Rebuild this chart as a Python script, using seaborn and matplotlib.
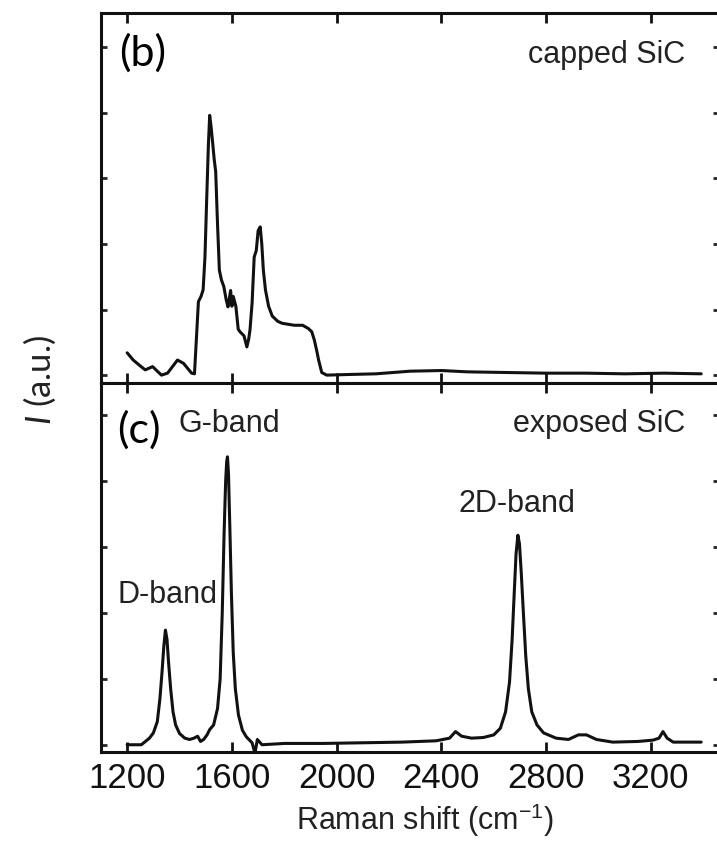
import numpy as np
import pandas as pd
import matplotlib
matplotlib.use('Agg')
import matplotlib.pyplot as plt
import seaborn as sns

# Raman spectra (wavenumber in cm^-1, intensity in a.u.)
capped_shift = [1200, 1223, 1250, 1269, 1297, 1315, 1331, 1354, 1375, 1392, 1415, 1446, 1457,
                1472, 1482, 1490, 1497, 1503, 1510, 1515, 1520, 1525, 1532, 1538, 1545, 1552,
                1560, 1569, 1578, 1585, 1595, 1600, 1605, 1615, 1624, 1631, 1646, 1657, 1664,
                1669, 1677, 1685, 1693, 1700, 1708, 1714, 1720, 1728, 1740, 1754, 1775, 1792,
                1838, 1870, 1892, 1905, 1915, 1925, 1931, 1943, 1962, 2050, 2150, 2280, 2400,
                2500, 2650, 2800, 2950, 3100, 3250, 3392]
capped_int = [0.34, 0.23, 0.14, 0.08, 0.13, 0.06, 0.0, 0.03, 0.14, 0.23, 0.18, 0.03, 0.02,
              1.12, 1.20, 1.30, 1.80, 2.60, 3.50, 3.96, 3.80, 3.60, 3.30, 3.10, 2.30, 1.60,
              1.45, 1.35, 1.15, 1.04, 1.29, 1.05, 1.20, 1.05, 0.70, 0.66, 0.60, 0.43, 0.55,
              0.69, 1.10, 1.80, 1.90, 2.20, 2.26, 2.00, 1.60, 1.30, 1.05, 0.90, 0.82, 0.79,
              0.76, 0.76, 0.71, 0.66, 0.53, 0.35, 0.23, 0.04, 0.0, 0.01, 0.02, 0.06, 0.07,
              0.05, 0.04, 0.03, 0.03, 0.02, 0.03, 0.02]

exposed_shift = [1200, 1254, 1285, 1300, 1315, 1325, 1333, 1340, 1346, 1352, 1358, 1366, 1375,
                 1385, 1400, 1420, 1438, 1455, 1469, 1480, 1492, 1505, 1515, 1530, 1545, 1555,
                 1563, 1570, 1576, 1580, 1583, 1587, 1592, 1598, 1605, 1613, 1625, 1640, 1655,
                 1677, 1688, 1697, 1715, 1800, 1950, 2100, 2250, 2380, 2431, 2454, 2477, 2515,
                 2560, 2600, 2625, 2645, 2660, 2670, 2678, 2685, 2692, 2698, 2705, 2713, 2722,
                 2732, 2745, 2765, 2790, 2838, 2885, 2923, 2954, 2992, 3054, 3150, 3208, 3231,
                 3246, 3262, 3285, 3392]
exposed_int = [0.0, 0.0, 0.10, 0.18, 0.35, 0.70, 1.10, 1.50, 1.74, 1.60, 1.25, 0.85, 0.50,
               0.30, 0.17, 0.10, 0.08, 0.10, 0.13, 0.05, 0.08, 0.15, 0.23, 0.30, 0.55, 1.00,
               2.00, 3.20, 4.00, 4.30, 4.37, 4.10, 3.30, 2.30, 1.40, 0.85, 0.45, 0.22, 0.12,
               0.03, -0.13, 0.08, 0.0, 0.02, 0.02, 0.03, 0.04, 0.06, 0.10, 0.20, 0.13, 0.10,
               0.11, 0.15, 0.25, 0.50, 0.95, 1.60, 2.30, 2.90, 3.18, 3.05, 2.60, 2.00, 1.35,
               0.85, 0.50, 0.30, 0.18, 0.10, 0.08, 0.15, 0.15, 0.08, 0.04, 0.05, 0.07, 0.10,
               0.20, 0.10, 0.04, 0.04]

xtick_vals = [1200, 1600, 2000, 2400, 2800, 3200]
ytick_vals = [0, 1, 2, 3, 4, 5]

capped = pd.DataFrame({'shift': capped_shift, 'I': capped_int})
exposed = pd.DataFrame({'shift': exposed_shift, 'I': exposed_int})

sns.set_style('ticks')
plt.rcParams['font.family'] = ['Liberation Sans', 'DejaVu Sans']
plt.rcParams['mathtext.fontset'] = 'custom'
plt.rcParams['mathtext.rm'] = 'Liberation Sans'
plt.rcParams['mathtext.it'] = 'Lato:italic'

fig = plt.figure(figsize=(7.17, 8.58), dpi=100)
left, right = 101 / 717, 719 / 717
ax_top = fig.add_axes([left, 1 - 383 / 858, right - left, 370 / 858])
ax_bot = fig.add_axes([left, 1 - 752 / 858, right - left, 369 / 858])

for ax, df in [(ax_top, capped), (ax_bot, exposed)]:
    sns.lineplot(data=df, x='shift', y='I', ax=ax, color='#111111', lw=2.2)
    ax.set_xlim(1100, 3460)
    ax.set_xticks(xtick_vals)
    ax.set_yticks(ytick_vals)
    ax.set_yticklabels([])
    ax.set_xlabel('')
    ax.set_ylabel('')
    ax.tick_params(axis='x', direction='in', top=True, bottom=True, length=7, width=2,
                   labelsize=25, pad=7, colors='#111111')
    ax.tick_params(axis='y', direction='in', left=True, right=True, length=4, width=2)
    for sp in ax.spines.values():
        sp.set_linewidth(2.2)
        sp.set_color('#111111')

ax_top.set_ylim(-0.12, 5.52)
ax_bot.set_ylim(-0.11, 5.49)
ax_top.set_xticklabels([])
ax_bot.set_xticklabels([str(v) for v in xtick_vals])

txt = dict(fontsize=22, color='#222222')
ax_top.text(0.945, 0.865, 'capped SiC', transform=ax_top.transAxes, ha='right', va='baseline', **txt)
ax_bot.text(0.945, 0.867, 'exposed SiC', transform=ax_bot.transAxes, ha='right', va='baseline', **txt)
ax_bot.text(0.1246, 0.867, 'G-band', transform=ax_bot.transAxes, ha='left', va='baseline', **txt)
ax_bot.text(0.578, 0.650, '2D-band', transform=ax_bot.transAxes, ha='left', va='baseline', **txt)
ax_bot.text(0.026, 0.404, 'D-band', transform=ax_bot.transAxes, ha='left', va='baseline', **txt)

ax_top.text(0.03, 0.857, '(b)', transform=ax_top.transAxes, ha='left', va='baseline',
            fontsize=31, family=['Lato', 'DejaVu Sans'], color='black')
ax_bot.text(0.026, 0.837, '(c)', transform=ax_bot.transAxes, ha='left', va='baseline',
            fontsize=31, family=['Lato', 'DejaVu Sans'], color='black')

fig.text(40 / 717, 1 - 380 / 858, r'$I$ (a.u.)', rotation=90, ha='center', va='center',
         fontsize=25, family=['Lato', 'DejaVu Sans'], color='#222222')
fig.text(425 / 717, 1 - 820 / 858, r'Raman shift (cm$^{-1}$)', ha='center', va='center',
         fontsize=22, color='#222222')

fig.savefig('out.png', dpi=100)
